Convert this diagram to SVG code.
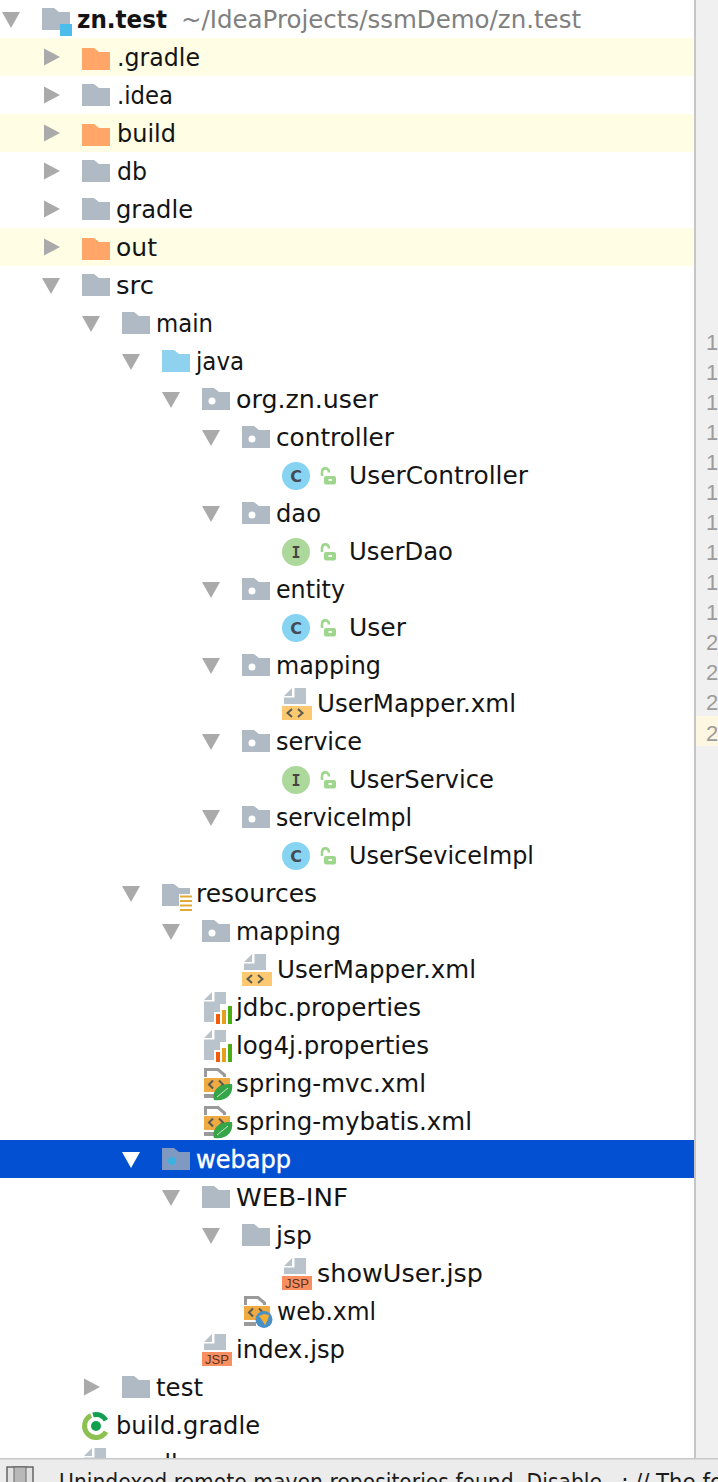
<svg xmlns="http://www.w3.org/2000/svg" xmlns:xlink="http://www.w3.org/1999/xlink" width="718" height="1482" viewBox="0 0 718 1482">
<style>
text{font-family:"DejaVu Sans","Liberation Sans",sans-serif;font-size:25px;fill:#141414}
.sel{fill:#fff;stroke:#fff;stroke-width:.4px}
.path{fill:#808080}
.b{font-weight:bold}
.num{font-family:"Liberation Sans",sans-serif;font-size:22px;fill:#9c9c9c}
.ltr{font-family:"DejaVu Sans Mono",monospace;font-size:15px;font-weight:bold;fill:#444;text-anchor:middle}
.ltc{font-family:"DejaVu Sans",sans-serif;font-size:16px;font-weight:bold;fill:#454b52;text-anchor:middle}
.jsp{font-family:"Liberation Sans",sans-serif;font-size:13px;fill:#5c3220;text-anchor:middle}
.st{font-family:"DejaVu Sans",sans-serif;font-size:23px;fill:#1c1c1c}
.r{fill:#aaa}
.chev{fill:none;stroke:#5a5a50;stroke-width:2}
</style>
<defs>
<path id="rt" d="M0-8.500L16 0 0 8.500Z" class="r"/>
<path id="dn" d="M0-7H18L9 9Z" class="r"/>
<path id="f" d="M0-11H12L17-7H28V11H0Z"/>
<g id="fd"><use xlink:href="#f" fill="#afbac4"/><circle cx="10" cy="2" r="3.500" fill="#fff"/></g>
<g id="fg"><use xlink:href="#f" fill="#afbac4"/></g>
<g id="fo"><use xlink:href="#f" y="2" fill="#ffa668"/></g>
<g id="cC"><circle cx="14" cy="1" r="14" fill="#87d4f2"/><text class="ltc" x="14" y="6.800">C</text></g>
<g id="cI"><circle cx="14" cy="1" r="14" fill="#acd89b"/><text class="ltr" x="14" y="6.500">I</text></g>
<g id="lk"><path d="M2 1V-2.500C2-8 9-8 9-2.500" fill="none" stroke="#9fd68d" stroke-width="2.600"/><rect x="4" y="1" width="12" height="8.500" rx="2" fill="#9fd68d"/><rect x="8.500" y="4" width="3.500" height="2" fill="#fff"/></g>
<g id="doc"><path d="M2 8 10 0V8Z" fill="#b9c3cb"/><path d="M12.500 0H24V16H2V9.500H12.500Z" fill="#b9c3cb"/></g>
<g id="xml"><use xlink:href="#doc"/><rect y="18" width="30" height="14" fill="#fcc870"/><path class="chev" d="M10 21 5.500 25 10 29M16 21 20.500 25 16 29"/></g>
<g id="jspi"><use xlink:href="#doc"/><rect y="18" width="30" height="14" fill="#f98e60"/><text class="jsp" x="15" y="30">JSP</text></g>
<g id="prop"><path d="M0 8 8 0V8Z" fill="#b9c3cb"/><path d="M10.500 0H22V12H16V20H10V30H0V9.500H10.500Z" fill="#b9c3cb"/><rect x="12" y="22" width="4" height="10" fill="#f25c0a"/><rect x="18" y="18" width="4" height="14" fill="#e6a020"/><rect x="24" y="14" width="4" height="18" fill="#4aad12"/></g>
<g id="cfg"><path d="M1.500 9V1.500H14L20.500 7V9" fill="none" stroke="#9a9a9a" stroke-width="3"/><rect y="10" width="26" height="14" fill="#f0aa42"/><rect y="26" width="12" height="4" fill="#9a9a9a"/><path class="chev" d="M9 12.500 5 16.500 9 20.500M15 12.500 19 16.500 15 20.500"/></g>
<g id="spr"><use xlink:href="#cfg"/><path d="M10 32C7 22 16 15 28 16 30 26 22 34 10 32Z" fill="#35a548"/><path d="M13 29 24 20" stroke="#c8e8cc" stroke-width="1" fill="none"/></g>
</defs>

<rect id="background" width="718" height="1482" fill="#fff"/>
<g id="highlights" fill="#fffde3">
<rect y="38" width="694" height="38"/><rect y="114" width="694" height="38"/><rect y="228" width="694" height="38"/>
</g>
<rect id="selection" y="1140" width="694" height="38" fill="#0450d2"/>

<g id="gutter">
<rect x="696" width="22" height="1458" fill="#f0f0f0"/>
<rect x="694" width="2" height="1458" fill="#c6c6c6"/>
<rect x="696" y="716" width="22" height="30" fill="#fdf6e0"/>
<text class="num" x="706" y="350">1</text><text class="num" x="706" y="380">1</text><text class="num" x="706" y="410">1</text><text class="num" x="706" y="440">1</text><text class="num" x="706" y="470">1</text><text class="num" x="706" y="500">1</text><text class="num" x="706" y="530">1</text><text class="num" x="706" y="560">1</text><text class="num" x="706" y="590">1</text><text class="num" x="706" y="620">1</text><text class="num" x="706" y="650">2</text><text class="num" x="706" y="680">2</text><text class="num" x="706" y="710">2</text><text class="num" x="706" y="741">2</text>
</g>

<g id="n-root"><use xlink:href="#dn" x="2" y="19"/><use xlink:href="#fg" x="42" y="19"/><rect x="60" y="24" width="12" height="12" fill="#4cbcea"/><text class="b" x="77" y="28" textLength="90" lengthAdjust="spacingAndGlyphs">zn.test</text><text class="path" x="181" y="28" textLength="400" lengthAdjust="spacingAndGlyphs">~/IdeaProjects/ssmDemo/zn.test</text></g>
<g id="n-gradle-dir"><use xlink:href="#rt" x="44" y="57"/><use xlink:href="#fo" x="82" y="57"/><text x="117" y="66" textLength="83" lengthAdjust="spacingAndGlyphs">.gradle</text></g>
<g id="n-idea"><use xlink:href="#rt" x="44" y="95"/><use xlink:href="#fg" x="82" y="95"/><text x="117" y="104" textLength="56" lengthAdjust="spacingAndGlyphs">.idea</text></g>
<g id="n-build"><use xlink:href="#rt" x="44" y="133"/><use xlink:href="#fo" x="82" y="133"/><text x="117" y="142" textLength="59" lengthAdjust="spacingAndGlyphs">build</text></g>
<g id="n-db"><use xlink:href="#rt" x="44" y="171"/><use xlink:href="#fg" x="82" y="171"/><text x="117" y="180" textLength="30" lengthAdjust="spacingAndGlyphs">db</text></g>
<g id="n-gradle"><use xlink:href="#rt" x="44" y="209"/><use xlink:href="#fg" x="82" y="209"/><text x="116" y="218" textLength="77" lengthAdjust="spacingAndGlyphs">gradle</text></g>
<g id="n-out"><use xlink:href="#rt" x="44" y="247"/><use xlink:href="#fo" x="82" y="247"/><text x="116" y="256" textLength="41" lengthAdjust="spacingAndGlyphs">out</text></g>
<g id="n-src"><use xlink:href="#dn" x="42" y="285"/><use xlink:href="#fg" x="82" y="285"/><text x="116" y="294" textLength="38" lengthAdjust="spacingAndGlyphs">src</text></g>
<g id="n-main"><use xlink:href="#dn" x="82" y="323"/><use xlink:href="#fg" x="122" y="323"/><text x="156" y="332" textLength="57" lengthAdjust="spacingAndGlyphs">main</text></g>
<g id="n-java"><use xlink:href="#dn" x="122" y="361"/><use xlink:href="#f" x="162" y="361" fill="#8ed2f0"/><text x="196" y="370" textLength="48" lengthAdjust="spacingAndGlyphs">java</text></g>
<g id="n-org"><use xlink:href="#dn" x="162" y="399"/><use xlink:href="#fd" x="202" y="399"/><text x="236" y="408" textLength="142" lengthAdjust="spacingAndGlyphs">org.zn.user</text></g>
<g id="n-controller"><use xlink:href="#dn" x="202" y="437"/><use xlink:href="#fd" x="242" y="437"/><text x="276" y="446" textLength="118" lengthAdjust="spacingAndGlyphs">controller</text></g>
<g id="n-usercontroller"><use xlink:href="#cC" x="282" y="475"/><use xlink:href="#lk" x="320" y="475"/><text x="349" y="484" textLength="179" lengthAdjust="spacingAndGlyphs">UserController</text></g>
<g id="n-dao"><use xlink:href="#dn" x="202" y="513"/><use xlink:href="#fd" x="242" y="513"/><text x="276" y="522" textLength="45" lengthAdjust="spacingAndGlyphs">dao</text></g>
<g id="n-userdao"><use xlink:href="#cI" x="282" y="551"/><use xlink:href="#lk" x="320" y="551"/><text x="349" y="560" textLength="104" lengthAdjust="spacingAndGlyphs">UserDao</text></g>
<g id="n-entity"><use xlink:href="#dn" x="202" y="589"/><use xlink:href="#fd" x="242" y="589"/><text x="276" y="598" textLength="69" lengthAdjust="spacingAndGlyphs">entity</text></g>
<g id="n-user"><use xlink:href="#cC" x="282" y="627"/><use xlink:href="#lk" x="320" y="627"/><text x="349" y="636" textLength="57" lengthAdjust="spacingAndGlyphs">User</text></g>
<g id="n-mapping1"><use xlink:href="#dn" x="202" y="665"/><use xlink:href="#fd" x="242" y="665"/><text x="276" y="674" textLength="105" lengthAdjust="spacingAndGlyphs">mapping</text></g>
<g id="n-usermapper1"><use xlink:href="#xml" x="282" y="688"/><text x="317" y="712" textLength="199" lengthAdjust="spacingAndGlyphs">UserMapper.xml</text></g>
<g id="n-service"><use xlink:href="#dn" x="202" y="741"/><use xlink:href="#fd" x="242" y="741"/><text x="276" y="750" textLength="86" lengthAdjust="spacingAndGlyphs">service</text></g>
<g id="n-userservice"><use xlink:href="#cI" x="282" y="779"/><use xlink:href="#lk" x="320" y="779"/><text x="349" y="788" textLength="145" lengthAdjust="spacingAndGlyphs">UserService</text></g>
<g id="n-serviceimpl"><use xlink:href="#dn" x="202" y="817"/><use xlink:href="#fd" x="242" y="817"/><text x="276" y="826" textLength="136" lengthAdjust="spacingAndGlyphs">serviceImpl</text></g>
<g id="n-userseviceimpl"><use xlink:href="#cC" x="282" y="855"/><use xlink:href="#lk" x="320" y="855"/><text x="349" y="864" textLength="185" lengthAdjust="spacingAndGlyphs">UserSeviceImpl</text></g>
<g id="n-resources"><use xlink:href="#dn" x="122" y="893"/><use xlink:href="#f" x="162" y="895" fill="#afbac4"/><rect x="179" y="894" width="14" height="17" fill="#fff"/><path d="M180 896.500H192M180 901H192M180 905.500H192M180 910H192" stroke="#e2a935" stroke-width="2.200"/><text x="196" y="902" textLength="121" lengthAdjust="spacingAndGlyphs">resources</text></g>
<g id="n-mapping2"><use xlink:href="#dn" x="162" y="931"/><use xlink:href="#fd" x="202" y="931"/><text x="236" y="940" textLength="105" lengthAdjust="spacingAndGlyphs">mapping</text></g>
<g id="n-usermapper2"><use xlink:href="#xml" x="242" y="954"/><text x="277" y="978" textLength="199" lengthAdjust="spacingAndGlyphs">UserMapper.xml</text></g>
<g id="n-jdbc"><use xlink:href="#prop" x="204" y="992"/><text x="236" y="1016" textLength="185" lengthAdjust="spacingAndGlyphs">jdbc.properties</text></g>
<g id="n-log4j"><use xlink:href="#prop" x="204" y="1030"/><text x="236" y="1054" textLength="193" lengthAdjust="spacingAndGlyphs">log4j.properties</text></g>
<g id="n-springmvc"><use xlink:href="#spr" x="204" y="1068"/><text x="236" y="1092" textLength="190" lengthAdjust="spacingAndGlyphs">spring-mvc.xml</text></g>
<g id="n-springmybatis"><use xlink:href="#spr" x="204" y="1106"/><text x="236" y="1130" textLength="236" lengthAdjust="spacingAndGlyphs">spring-mybatis.xml</text></g>
<g id="n-webapp"><path d="M122 1152H140L131 1168Z" fill="#fff"/><use xlink:href="#f" x="162" y="1159" fill="#8099c0"/><circle cx="172" cy="1161" r="4" fill="#3cb0e0"/><text class="sel" x="196" y="1168" textLength="95" lengthAdjust="spacingAndGlyphs">webapp</text></g>
<g id="n-webinf"><use xlink:href="#dn" x="162" y="1197"/><use xlink:href="#fg" x="202" y="1197"/><text x="236" y="1206" textLength="112" lengthAdjust="spacingAndGlyphs">WEB-INF</text></g>
<g id="n-jsp"><use xlink:href="#dn" x="202" y="1235"/><use xlink:href="#fg" x="242" y="1235"/><text x="276" y="1244" textLength="36" lengthAdjust="spacingAndGlyphs">jsp</text></g>
<g id="n-showuser"><use xlink:href="#jspi" x="282" y="1258"/><text x="317" y="1282" textLength="166" lengthAdjust="spacingAndGlyphs">showUser.jsp</text></g>
<g id="n-webxml"><use xlink:href="#cfg" x="244" y="1296"/><circle cx="264" cy="1319.500" r="8.500" fill="#4a90c8"/><path d="M259 1316 264 1314 269 1315 268 1319 265 1325 262 1320Z" fill="#f5b030"/><text x="277" y="1320" textLength="99" lengthAdjust="spacingAndGlyphs">web.xml</text></g>
<g id="n-index"><use xlink:href="#jspi" x="202" y="1334"/><text x="236" y="1358" textLength="109" lengthAdjust="spacingAndGlyphs">index.jsp</text></g>
<g id="n-test"><use xlink:href="#rt" x="84" y="1387"/><use xlink:href="#fg" x="122" y="1387"/><text x="156" y="1396" textLength="47" lengthAdjust="spacingAndGlyphs">test</text></g>
<g id="n-buildgradle"><path d="M106 1431.750A11.500 11.500 0 1 1 91.100 1415.600" fill="none" stroke="#8cc050" stroke-width="5"/><path d="M93 1414.900A11.500 11.500 0 0 1 106 1420.250" fill="none" stroke="#12a050" stroke-width="5"/><circle cx="96" cy="1426" r="5" fill="#12a050"/><text x="116" y="1434" textLength="144" lengthAdjust="spacingAndGlyphs">build.gradle</text></g>
<g id="n-gradlew"><use xlink:href="#doc" x="82" y="1448"/><text x="116" y="1472" textLength="96" lengthAdjust="spacingAndGlyphs">gradlew</text></g>

<g id="statusbar">
<rect y="1458" width="718" height="24" fill="#ececec"/>
<rect y="1458" width="718" height="1.500" fill="#c8c8c8"/>
<rect x="7" y="1467" width="26" height="22" fill="#e0e0e0" stroke="#666" stroke-width="1.500"/>
<rect x="14" y="1467" width="12" height="22" fill="#b8b8b8" stroke="#666" stroke-width="1"/>
<text class="st" x="59" y="1490" textLength="543" lengthAdjust="spacingAndGlyphs">Unindexed remote maven repositories found. Disable</text>
<text class="st" x="621" y="1490">:</text>
<text class="st" x="635" y="1490" textLength="88" lengthAdjust="spacingAndGlyphs">// The fo</text>
</g>
</svg>
